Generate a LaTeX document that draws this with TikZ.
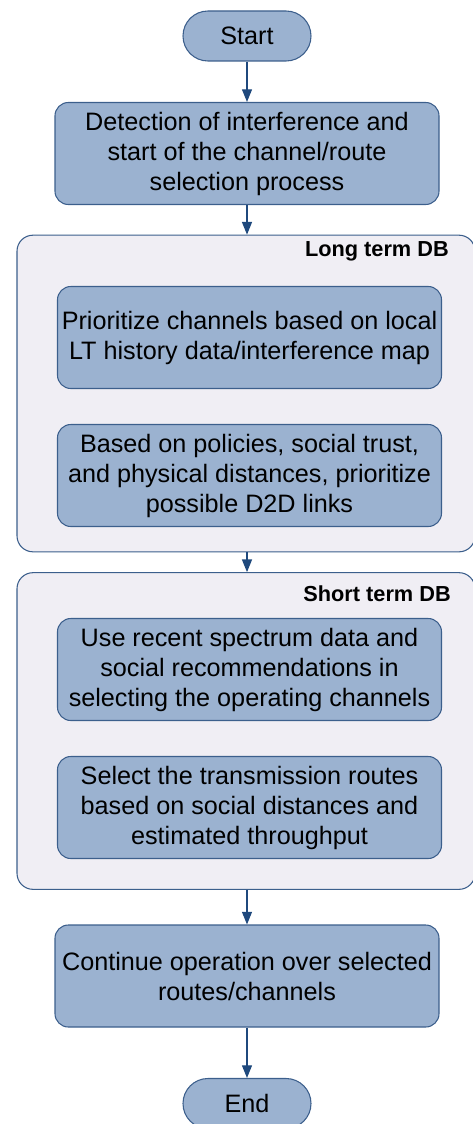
\documentclass[tikz,border=0pt]{standalone}
\usepackage{fontspec}
\setmainfont{Liberation Sans}
\usetikzlibrary{arrows.meta}
\definecolor{boxblue}{RGB}{155, 178, 208}
\definecolor{edgeblue}{RGB}{60, 95, 140}
\definecolor{arrowblue}{RGB}{31, 73, 125}
\definecolor{dbgray}{RGB}{240, 238, 244}

\begin{document}
\begin{tikzpicture}[x=0.75pt,y=-0.75pt,
  stepbox/.style={draw=edgeblue,fill=boxblue,line width=0.8pt,rounded corners=10pt,
    minimum width=288pt,minimum height=76.5pt,align=center,inner sep=0pt,
    font=\fontsize{18.9}{22.5}\selectfont},
  pill/.style={draw=edgeblue,fill=boxblue,line width=0.8pt,rounded corners=18.7pt,
    minimum width=96pt,minimum height=37.5pt,inner sep=0pt,
    font=\fontsize{18.9}{22.5}\selectfont},
  dbbox/.style={draw=edgeblue,fill=dbgray,line width=0.8pt,rounded corners=12pt,
    minimum width=343.5pt,minimum height=237.5pt,inner sep=0pt},
  dblabel/.style={anchor=east,inner sep=0pt,font=\bfseries\fontsize{16.3}{19}\selectfont},
  flow/.style={draw=arrowblue,line width=0.9pt,-{Triangle[length=9.5pt,width=7.5pt]}}]
\useasboundingbox (0,0) rectangle (473,1124);
\node[pill] (start) at (247,36) {Start};
\node[stepbox] (detect) at (247,153.5) {Detection of interference and\\start of the channel/route\\selection process};
\node[dbbox] (lt) at (246,393.5) {};
\node[dblabel] (ltlabel) at (449,251) {Long term DB};
\node[stepbox] (prio) at (249.5,337.5) {Prioritize channels based on local\\LT history data/interference map};
\node[stepbox] (links) at (249.5,475.5) {Based on policies, social trust,\\and physical distances, prioritize\\possible D2D links};
\node[dbbox] (st) at (246,731) {};
\node[dblabel] (stlabel) at (451,594) {Short term DB};
\node[stepbox] (spec) at (249.5,669.5) {Use recent spectrum data and\\social recommendations in\\selecting the operating channels};
\node[stepbox] (routes) at (249.5,807.5) {Select the transmission routes\\based on social distances and\\estimated throughput};
\node[stepbox] (cont) at (247,976) {Continue operation over selected\\routes/channels};
\node[pill] (end) at (247,1103.5) {End};
\draw[flow] (start) -- (detect);
\draw[flow] (detect.south) -- (detect.south |- lt.north);
\draw[flow] (lt.south -| detect.south) -- (detect.south |- st.north);
\draw[flow] (st.south -| detect.south) -- (cont.north);
\draw[flow] (cont) -- (end);
\end{tikzpicture}
\end{document}
